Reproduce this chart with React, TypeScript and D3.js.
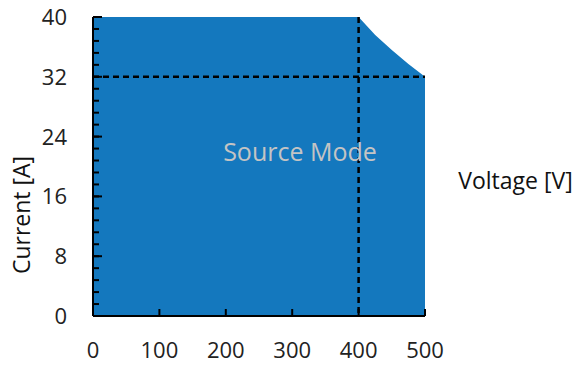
import React from "react";
import { scaleLinear, area, range } from "d3";

// operating envelope (V, A)
const envelopeVoltage = [0, 400, 425, 450, 475, 500];
const envelopeCurrent = [40, 40, 37.6, 35.6, 33.7, 32];
const xTickValues = [0, 100, 200, 300, 400, 500];
const yTickValues = [0, 8, 16, 24, 32, 40];
const ratedVoltage = 400;
const ratedCurrent = 32;

const width = 579;
const height = 365;
const font = "'Open Sans', 'Segoe UI', sans-serif";

const App = () => {
    const xScale = scaleLinear().domain([0, 500]).range([93, 425]);
    const yScale = scaleLinear().domain([0, 40]).range([316, 17]);

    const data = envelopeVoltage.map((v, i) => ({ v, c: envelopeCurrent[i] }));
    const areaPath = area<{ v: number; c: number }>()
        .x(d => xScale(d.v))
        .y0(yScale(0))
        .y1(d => yScale(d.c))(data);

    // minor ticks every 1.6 A
    const minorTicks = range(0, 40.01, 1.6);

    return (
        <svg width={width} height={height} style={{ position: "absolute", left: 0, top: 0 }}>
            <path d={areaPath || ""} fill="#1478BE" />

            {/* dashed reference lines */}
            <line x1={xScale(0)} x2={xScale(500)} y1={yScale(ratedCurrent)} y2={yScale(ratedCurrent)}
                stroke="#000" strokeWidth={2.5} strokeDasharray="6,4" />
            <line x1={xScale(ratedVoltage)} x2={xScale(ratedVoltage)} y1={yScale(40)} y2={yScale(0)}
                stroke="#000" strokeWidth={2.5} strokeDasharray="6,4" />

            {/* y axis */}
            <line x1={xScale(0)} x2={xScale(0)} y1={yScale(40)} y2={yScale(0)} stroke="#000" strokeWidth={2} />
            {minorTicks.map((t, i) => (
                <line key={i} x1={xScale(0)} x2={xScale(0) + 6} y1={yScale(t)} y2={yScale(t)} stroke="#000" strokeWidth={2} />
            ))}
            {yTickValues.map((t, i) => (
                <g key={i}>
                    <line x1={xScale(0)} x2={xScale(0) + 9} y1={yScale(t)} y2={yScale(t)} stroke="#000" strokeWidth={2} />
                    <text x={67} y={yScale(t)} dy="0.36em" textAnchor="end" fontSize={22} fontFamily={font} fill="#222">{t}</text>
                </g>
            ))}

            {/* x axis */}
            <line x1={xScale(0)} x2={xScale(500)} y1={yScale(0)} y2={yScale(0)} stroke="#000" strokeWidth={2} />
            {xTickValues.map((t, i) => (
                <g key={i}>
                    <line x1={xScale(t)} x2={xScale(t)} y1={yScale(0)} y2={yScale(0) - 7} stroke="#000" strokeWidth={2} />
                    <text x={xScale(t)} y={358} textAnchor="middle" fontSize={22} fontFamily={font} fill="#222">{t}</text>
                </g>
            ))}

            <text x={300} y={152} dy="0.36em" textAnchor="middle" fontSize={25} fontFamily={font} fill="#C4C4C4">Source Mode</text>
            <text x={515.5} y={181} dy="0.36em" textAnchor="middle" fontSize={23} fontFamily={font} fill="#111">Voltage [V]</text>
            <text transform="translate(22,215) rotate(-90)" dy="0.36em" textAnchor="middle" fontSize={23} fontFamily={font} fill="#111">Current [A]</text>
        </svg>
    );
};

export default App;
